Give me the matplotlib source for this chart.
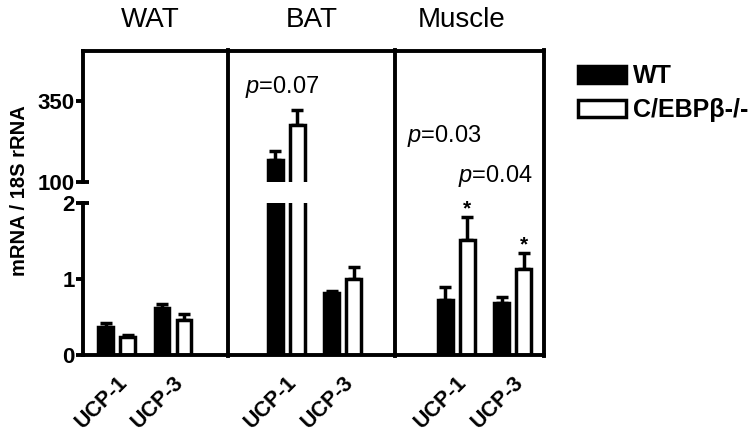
import matplotlib
matplotlib.use("Agg")
import matplotlib.pyplot as plt
from matplotlib.lines import Line2D
from matplotlib.transforms import blended_transform_factory
import numpy as np

plt.rcParams['font.family'] = ['Liberation Sans', 'DejaVu Sans']
plt.rcParams['mathtext.fontset'] = 'custom'
plt.rcParams['mathtext.rm'] = 'Liberation Sans'
plt.rcParams['mathtext.it'] = 'Liberation Sans:italic'

# data (mRNA / 18S rRNA)
tissues = ['WAT', 'BAT', 'Muscle']
genes = ['UCP-1', 'UCP-3']
wt_mean = [0.37, 0.62, 167, 0.82, 0.72, 0.68]
wt_sem = [0.05, 0.05, 28, 0.02, 0.18, 0.08]
ko_mean = [0.24, 0.46, 276, 1.00, 1.51, 1.14]
ko_sem = [0.02, 0.08, 46, 0.16, 0.31, 0.20]
p_labels = ['$\\it{p}$=0.07', '$\\it{p}$=0.03', '$\\it{p}$=0.04']
starred = [False, False, False, False, True, True]

# layout (x in group-spacing units)
centers = np.array([0.59, 1.58, 3.57, 4.56, 6.55, 7.54])
dividers = [2.54, 5.47]
xmax = 8.09
off = 0.193
bw = 0.26
W, H = 750, 433

fig = plt.figure(figsize=(7.5, 4.33), dpi=100)
ax_top = fig.add_axes([83 / W, 1 - 181.7 / H, 461 / W, 130.7 / H])
ax_bot = fig.add_axes([83 / W, 1 - 355 / H, 461 / W, 151.7 / H])

for ax in (ax_top, ax_bot):
    ax.bar(centers - off, wt_mean, bw, color='black', edgecolor='black',
           linewidth=2.5, label='WT', zorder=2)
    ax.bar(centers + off, ko_mean, bw, color='white', edgecolor='black',
           linewidth=2.5, label='C/EBP\u03b2-/-', zorder=2)
    ax.errorbar(centers - off, wt_mean, yerr=[np.zeros(6), wt_sem], fmt='none',
                ecolor='black', elinewidth=2.5, capsize=4, capthick=2.5, zorder=1)
    ax.errorbar(centers + off, ko_mean, yerr=[np.zeros(6), ko_sem], fmt='none',
                ecolor='black', elinewidth=2.5, capsize=4, capthick=2.5, zorder=1)
    ax.set_xlim(0, xmax)
    ax.spines['right'].set_visible(False)
    for s in ax.spines.values():
        s.set_linewidth(2.8)
    ax.tick_params(axis='y', length=5, width=2.8, labelsize=16, pad=1)

ax_top.set_ylim(100, 505)
ax_top.set_yticks([100, 350])
ax_top.spines['bottom'].set_visible(False)
ax_top.set_xticks([])

ax_bot.set_ylim(0, 2)
ax_bot.set_yticks([0, 1, 2])
ax_bot.spines['top'].set_visible(False)
ax_bot.set_xticks(centers)
ax_bot.set_xticklabels(genes * 3, rotation=45, ha='right', va='top',
                       rotation_mode='anchor', fontsize=15.5, fontweight='bold')
ax_bot.tick_params(axis='x', length=0, pad=12)
for ax in (ax_top, ax_bot):
    for lbl in ax.get_yticklabels():
        lbl.set_fontweight('bold')

# small caps at the axis break
for ax, yv in ((ax_top, 100), (ax_bot, 2)):
    tr = blended_transform_factory(ax.transAxes, ax.transData)
    ax.plot([0, 0.012], [yv, yv], color='black', lw=2.8, transform=tr,
            clip_on=False, solid_capstyle='butt')

# stars
for i, st in enumerate(starred):
    if st:
        ax_bot.annotate('*', xy=(centers[i] + off, ko_mean[i] + ko_sem[i]),
                        xytext=(0, -1), textcoords='offset points',
                        ha='center', va='bottom', fontsize=15, fontweight='bold')

# panel dividers and right border across the break
trf = blended_transform_factory(ax_bot.transData, fig.transFigure)
for xv in dividers + [xmax]:
    fig.add_artist(Line2D([xv, xv], [1 - 356 / H, 1 - 50 / H], color='black',
                          lw=2.8, transform=trf, solid_capstyle='projecting'))

# titles
for name, xp in zip(tissues, [150, 312, 462]):
    fig.text(xp / W, 1 - 20 / H, name, ha='center', va='center', fontsize=20)

# p-values
for lab, (xp, yp) in zip(p_labels, [(245, 87), (407, 136), (458, 176)]):
    fig.text(xp / W, 1 - yp / H, lab, ha='left', va='center', fontsize=17)

fig.text(20 / W, 1 - 191 / H, 'mRNA / 18S rRNA', rotation=90, ha='center',
         va='center', fontsize=14.5, fontweight='bold')

h, l = ax_bot.get_legend_handles_labels()
fig.legend(h, l, loc='upper left', bbox_to_anchor=(568 / W, 1 - 54 / H),
           frameon=False, handlelength=1.9, handleheight=0.7,
           handletextpad=0.3, labelspacing=0.4, borderaxespad=0,
           prop={'size': 18, 'weight': 'bold'})

fig.savefig('out.png', dpi=100)
